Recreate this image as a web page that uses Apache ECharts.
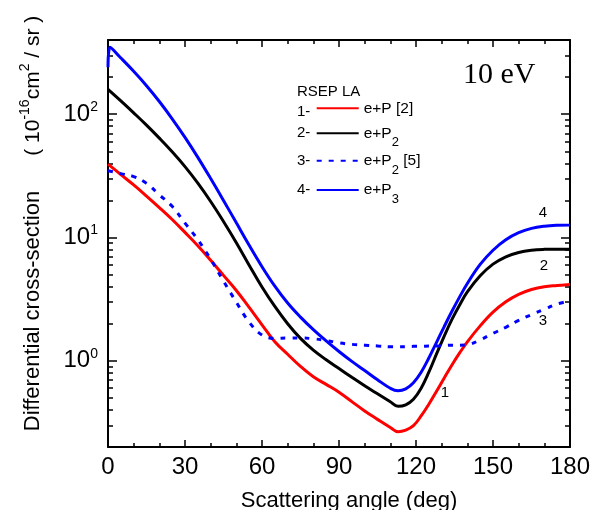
<!DOCTYPE html>
<html><head><meta charset="utf-8">
<script src="https://cdn.jsdelivr.net/npm/echarts@6/dist/echarts.min.js"></script>
<style>html,body{margin:0;padding:0;background:#fff}#c{width:592px;height:510px}</style>
</head><body><div id="c"></div>
<script>
// ---- data ----
const angles = [0,5,10,15,20,25,30,35,40,45,50,55,60,65,70,75,80,85,90,95,100,105,110,113,116,119,122,125,128,131,134,137,140,145,150,155,160,165,170,175,180];
const anglesP3 = [0,0.8,5,10,15,20,25,30,35,40,45,50,55,60,65,70,75,80,85,90,95,100,105,110,113,116,119,122,125,128,131,134,137,140,145,150,155,160,165,170,175,180];
// 1- e+P [2]
const csEP = [39.4,32.4,26.7,21.7,17.5,14.0,11.0,8.58,6.54,4.93,3.72,2.71,1.96,1.43,1.13,0.90,0.743,0.644,0.557,0.467,0.392,0.335,0.288,0.266,0.274,0.298,0.357,0.445,0.566,0.726,0.925,1.159,1.426,1.92,2.48,3.01,3.46,3.79,3.99,4.08,4.16];
// 2- e+P2
const csEP2 = [159.4,128.2,102.6,81.6,64.0,49.6,37.6,27.6,19.6,13.5,9.08,5.97,3.97,2.76,2.00,1.52,1.22,1.02,0.865,0.735,0.627,0.540,0.466,0.428,0.44,0.488,0.600,0.809,1.137,1.589,2.168,2.84,3.62,4.89,6.08,6.98,7.57,7.89,8.02,8.05,8.05];
// 3- e+P2 [5]
const csEP2ref = [34.8,33.0,31.2,27.5,22.2,17.9,13.1,9.6,6.66,4.43,2.99,2.06,1.62,1.52,1.53,1.53,1.51,1.46,1.40,1.36,1.34,1.32,1.30,1.30,1.30,1.31,1.31,1.32,1.32,1.33,1.34,1.34,1.35,1.48,1.67,1.87,2.13,2.37,2.62,2.89,3.06];
// 4- e+P3
const csEP3 = [240,349,286,223,170.4,126.9,91.9,64.9,44.7,30.1,20.0,13.15,8.65,5.80,4.03,2.94,2.26,1.79,1.45,1.19,0.989,0.835,0.702,0.599,0.572,0.593,0.665,0.809,1.054,1.413,1.897,2.523,3.30,4.24,6.05,7.89,9.59,10.94,11.86,12.36,12.59,12.65];

const yMajor = [1,10,100];
const yMinor = [0.3,0.4,0.5,0.6,0.7,0.8,0.9,2,3,4,5,6,7,8,9,20,30,40,50,60,70,80,90,200,300];
const seriesNames = ['e+P [2]','e+P2','e+P2 [5]','e+P3'];
const legendRich = {'e+P [2]':'{m|e+P [2]}','e+P2':'{m|e+P}{s|2}','e+P2 [5]':'{m|e+P}{s|2}{m| [5]}','e+P3':'{m|e+P}{s|3}'};
const legendPrefix = ['1-','2-','3-','4-'];
const curveTags = ['1','2','3','4'];
const legendTitle = 'RSEP LA';
const energyLabel = '10 eV';

// ---- chart ----
const FF = '"Liberation Sans", Arial, sans-serif';
const chart = echarts.init(document.getElementById('c'), null, {renderer:'canvas'});
const black = '#000';

function xAx(pos, showLabel) {
  const a = {
    type:'value', position:pos, min:0, max:180, interval:30, gridIndex:0,
    axisLine:{show:true, onZero:false, lineStyle:{color:black, width:2}},
    axisTick:{show:true, inside:true, length:7, lineStyle:{color:black, width:1.5}},
    minorTick:{show:true, splitNumber:3, length:4, lineStyle:{color:black, width:1.5}},
    splitLine:{show:false}, minorSplitLine:{show:false},
    axisLabel:{show:showLabel, fontSize:24, color:black, fontFamily:FF, margin:8}
  };
  if (showLabel) {
    a.name = 'Scattering angle (deg)';
    a.nameLocation = 'middle';
    a.nameGap = 43;
    a.nameTextStyle = {fontSize:22, color:black, fontFamily:FF, padding:[0,0,0,20]};
  }
  return a;
}
function yAx(pos, ticks, len, showLine, label) {
  const a = {
    type:'log', logBase:10, min:0.2, max:400, position:pos, gridIndex:0,
    axisLine:{show:showLine, onZero:false, lineStyle:{color:black, width:2}},
    axisTick:{show:true, inside:true, length:len, customValues:ticks, lineStyle:{color:black, width:1.5}},
    splitLine:{show:false}, minorTick:{show:false},
    axisLabel:{show:false}
  };
  if (label) {
    a.axisLabel = {
      show:true, customValues:yMajor, margin:10, color:black, fontFamily:FF,
      formatter: v => '{m|10}{s|' + Math.round(Math.log10(v)) + '}',
      rich:{ m:{fontSize:24, lineHeight:28, fontFamily:FF, color:black},
             s:{fontSize:14, lineHeight:14, verticalAlign:'top', fontFamily:FF, color:black} }
    };
    a.name = '{b|Differential cross-section}{a|      ( 10}{s|-16}{a|cm}{s|2}{a| / sr )}';
    a.nameLocation = 'middle';
    a.nameRotate = 90;
    a.nameGap = 60;
    a.nameTextStyle = {fontFamily:FF, color:black, padding:[0,0,0,40],
      rich:{ b:{fontSize:22, lineHeight:30, fontFamily:FF, color:black},
             a:{fontSize:21, lineHeight:30, fontFamily:FF, color:black},
             s:{fontSize:14, lineHeight:8, verticalAlign:'top', fontFamily:FF, color:black} } };
  }
  return a;
}

const colors = ['#ff0000','#000000','#0000ff','#0000ff'];
const types = ['solid','solid',[5,7],'solid'];
const xs = [angles, angles, angles, anglesP3];
const ys = [csEP, csEP2, csEP2ref, csEP3];

const series = seriesNames.map((n,i) => ({
  type:'line', name:n, xAxisIndex:0, yAxisIndex:0, symbol:'none', showSymbol:false,
  smooth:0.4,
  data: xs[i].map((a,j) => [a, ys[i][j]]),
  lineStyle:{color:colors[i], width:3, type:types[i]},
  itemStyle:{color:colors[i]},
  emphasis:{disabled:true}, silent:true, z: i===2 ? 3 : 2
}));

const rowCenters = [112.3, 133.3, 160.7, 190];
const legends = seriesNames.map((n,i) => ({
  data:[n], left:315.7, top:rowCenters[i]-12, orient:'vertical', padding:0,
  itemWidth:42, itemHeight:14, itemGap:0, selectedMode:false,
  itemStyle:{opacity:0},
  formatter: name => legendRich[name],
  textStyle:{fontFamily:FF, color:black, fontSize:15,
    rich:{ m:{fontSize:15.5, lineHeight:24, fontFamily:FF, color:black},
           s:{fontSize:13, lineHeight:9, padding:[15,0,0,0], verticalAlign:'top', fontFamily:FF, color:black} } }
}));

function txt(s, x, y, size, family, align) {
  return {type:'text', x:x, y:y, silent:true,
    style:{text:s, fontSize:size, fontFamily:family||FF, fill:black, align:align||'left', verticalAlign:'middle'}};
}
const graphics = [
  txt(legendTitle, 297, 91.7, 15),
  ...legendPrefix.map((p,i) => txt(p, 297, rowCenters[i], 15)),
  txt(energyLabel, 463, 75, 30, '"Liberation Serif", "Times New Roman", serif'),
  txt(curveTags[3], 543, 213, 15, null, 'center'),
  txt(curveTags[1], 544, 266, 15, null, 'center'),
  txt(curveTags[2], 543, 321, 15, null, 'center'),
  txt(curveTags[0], 445, 393, 15, null, 'center')
];

chart.setOption({
  animation:false,
  backgroundColor:'#fff',
  grid:{left:108, right:22, top:40, bottom:63, containLabel:false, outerBoundsMode:'none'},
  xAxis:[xAx('bottom', true), xAx('top', false)],
  yAxis:[yAx('left', yMajor, 9, true, true), yAx('left', yMinor, 5, false, false),
         yAx('right', yMajor, 9, true, false), yAx('right', yMinor, 5, false, false)],
  legend:legends,
  series:series,
  graphic:graphics
});
</script></body></html>
